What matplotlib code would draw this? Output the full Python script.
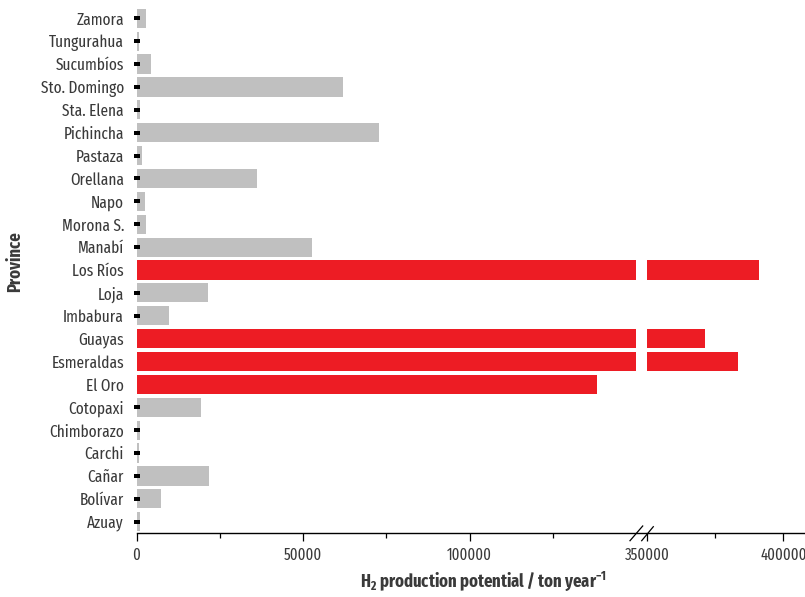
import numpy as np
import matplotlib
matplotlib.use("Agg")
import matplotlib.pyplot as plt
from matplotlib.lines import Line2D
from matplotlib.path import Path
from matplotlib.ticker import FixedLocator

FONT = 'Fira Sans Extra Condensed'
plt.rcParams['font.family'] = [FONT, 'DejaVu Sans']
plt.rcParams['mathtext.fontset'] = 'custom'
plt.rcParams['mathtext.rm'] = FONT
plt.rcParams['mathtext.bf'] = FONT + ':bold'
plt.rcParams['mathtext.default'] = 'bf'

# ---- data (bottom to top) ----
provinces = ["Azuay", "Bolívar", "Cañar", "Carchi", "Chimborazo", "Cotopaxi",
             "El Oro", "Esmeraldas", "Guayas", "Imbabura", "Loja", "Los Ríos",
             "Manabí", "Morona S.", "Napo", "Orellana", "Pastaza", "Pichincha",
             "Sta. Elena", "Sto. Domingo", "Sucumbíos", "Tungurahua", "Zamora"]
h2_potential = [1050, 7350, 21850, 750, 1050, 19360,
                138200, 383400, 371300, 9750, 21370, 391000,
                52580, 2850, 2550, 36250, 1650, 72870,
                960, 61970, 4350, 840, 2760]
highlight = ["El Oro", "Esmeraldas", "Guayas", "Los Ríos"]
marker_value = 0

left_major = [0, 50000, 100000]
left_minor = [25000, 75000, 125000]
right_major = [350000, 400000]
right_minor = [375000]
left_break = 150000
right_start = 350000

GRAY = "#c0c0c0"
RED = "#ed1c24"
TXT = "#3a3a3a"

W, H = 805, 597
fig = plt.figure(figsize=(W / 100, H / 100), dpi=100)

y = np.arange(len(provinces))
vals = np.array(h2_potential, dtype=float)
is_hi = np.array([p in highlight for p in provinces])
colors = [RED if h else GRAY for h in is_hi]

ax_bottom = (H - 533.3) / H
ax_height = 533.3 / H
axL = fig.add_axes([136.5 / W, ax_bottom, (647 - 136.5) / W, ax_height])
axR = fig.add_axes([647 / W, ax_bottom, (805 - 647) / W, ax_height], sharey=axL)

bar_h = 0.84
axL.barh(y, np.minimum(vals, left_break), height=bar_h, color=colors, zorder=1)
axR.barh(y, vals, height=bar_h, color=colors, zorder=1)

# small black markers for non-highlighted provinces
rect = Path([(-1, -0.6), (1, -0.6), (1, 0.6), (-1, 0.6), (-1, -0.6)])
axL.scatter(np.full((~is_hi).sum(), marker_value), y[~is_hi], marker=rect,
            s=(3.8) ** 2, color="black", zorder=3, clip_on=False, linewidths=0)

px_per_unit = 166.6 / 50000
axL.set_xlim(0, (647 - 136.5) / px_per_unit)
axR.set_xlim(right_start, right_start + (805 - 647) / (136.3 / 50000))
axL.set_ylim(-0.507, 22.80)

for ax in (axL, axR):
    for s in ("top", "right", "left"):
        ax.spines[s].set_visible(False)
    ax.spines["bottom"].set_linewidth(1.0)
    ax.tick_params(axis="x", which="major", length=6, width=0.9, colors="black",
                   labelcolor=TXT, labelsize=11.5, pad=4)
    ax.tick_params(axis="x", which="minor", length=3.5, width=0.9, colors="black")

axL.xaxis.set_major_locator(FixedLocator(left_major))
axL.xaxis.set_minor_locator(FixedLocator(left_minor))
axL.set_xticklabels([str(v) for v in left_major])
axR.xaxis.set_major_locator(FixedLocator(right_major))
axR.xaxis.set_minor_locator(FixedLocator(right_minor))
axR.set_xticklabels([str(v) for v in right_major])

axL.set_yticks(y)
axL.set_yticklabels(provinces)
axL.tick_params(axis="y", length=0, pad=9, labelsize=12, labelcolor=TXT)
axR.tick_params(axis="y", left=False, labelleft=False)

# break marks
def fpx(x, yy):
    return x / W, 1 - yy / H
for (x0, y0, x1, y1) in [(630, 540.7, 642.7, 526.0), (641.7, 540.7, 653.3, 526.7)]:
    a = fpx(x0, y0)
    b = fpx(x1, y1)
    fig.add_artist(Line2D([a[0], b[0]], [a[1], b[1]], transform=fig.transFigure,
                          color="black", lw=0.9))

fig.text(484 / W, 1 - 581 / H, r"H$_2$ production potential / ton year$^{-1}$",
         ha="center", va="center", fontsize=13, fontweight="bold", color=TXT)
fig.text(15 / W, 1 - 262 / H, "Province", rotation=90, ha="center", va="center",
         fontsize=13, fontweight="bold", color=TXT)

fig.savefig("out.png", dpi=100)
